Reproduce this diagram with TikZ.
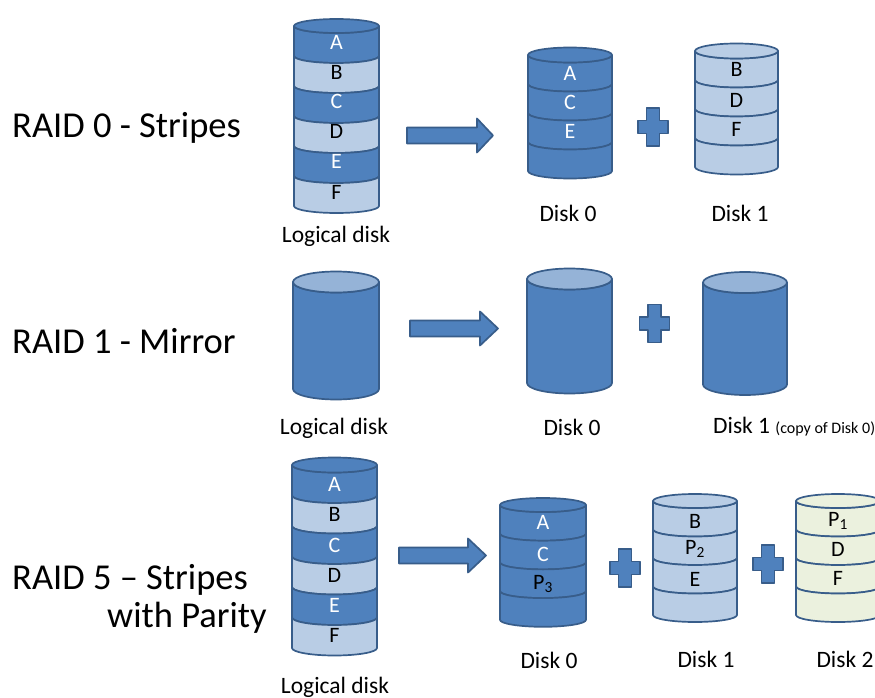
\documentclass[tikz,border=0pt]{standalone}
\usepackage{fontspec}
\setmainfont{Carlito}
\definecolor{diskblue}{HTML}{4F81BD}
\definecolor{diskedge}{HTML}{385D8A}
\definecolor{disklight}{HTML}{B9CDE5}
\definecolor{diskcap}{HTML}{95B3D7}
\definecolor{diskpale}{HTML}{EBF1DE}

% Stacked cylinder: #1 left x, #2 right x, #3 y of top rim, #4 band height,
% #5 rim half-height, #6 top colour, #7 list of band colours (top to bottom)
\newcommand\stackdisk[7]{%
  \pgfmathsetmacro\drx{(#2-#1)/2}%
  \pgfmathsetmacro\dcx{(#1+#2)/2}%
  \foreach \bc [count=\bi from 0] in {#7} {
    \pgfmathsetmacro\dya{#3+\bi*#4}
    \pgfmathsetmacro\dyb{#3+(\bi+1)*#4}
    \filldraw[disk, fill=\bc] (#1,\dya) -- (#1,\dyb)
      arc[start angle=180, end angle=360, x radius=\drx pt, y radius=#5pt]
      -- (#2,\dya)
      arc[start angle=360, end angle=180, x radius=\drx pt, y radius=#5pt] -- cycle;
  }
  \filldraw[disk, fill=#6] (\dcx,#3) ellipse[x radius=\drx pt, y radius=#5pt];
}

% Plus sign centred on (#1,#2)
\newcommand\plusmark[2]{%
  \filldraw[disk, fill=diskblue] (#1,#2) ++(-6.5,-19) -- ++(13,0) -- ++(0,12.5)
    -- ++(8.5,0) -- ++(0,13) -- ++(-8.5,0) -- ++(0,12.5) -- ++(-13,0)
    -- ++(0,-12.5) -- ++(-8.5,0) -- ++(0,-13) -- ++(8.5,0) -- cycle;
}

% Block arrow: #1 tail x, #2 head base x, #3 tip x, #4 centre y
\newcommand\blockarrow[4]{%
  \filldraw[disk, fill=diskblue] (#1,{#4-8}) -- (#2,{#4-8}) -- (#2,{#4-17})
    -- (#3,#4) -- (#2,{#4+17}) -- (#2,{#4+8}) -- (#1,{#4+8}) -- cycle;
}

\tikzset{
  disk/.style={draw=diskedge, line width=1.7pt, line join=round},
  title/.style={font=\fontsize{36.5}{44}\selectfont, anchor=base west, inner sep=0pt},
  caption/.style={font=\fontsize{23.5}{28}\selectfont, inner sep=0pt},
  wletter/.style={font=\fontsize{22}{26}\selectfont, text=white, inner sep=0pt},
  bletter/.style={font=\fontsize{22}{26}\selectfont, text=black, inner sep=0pt}
}

\begin{document}
\begin{tikzpicture}[x=1pt, y=-1pt]
\clip (0,0) rectangle (875,698);
\fill[white] (0,0) rectangle (875,698);

% ---------------- RAID 0 ----------------
\node[title] (t0) at (12,138) {RAID 0 - Stripes};
\stackdisk{294}{379}{26}{30}{7}{diskblue}{diskblue,disklight,diskblue,disklight,diskblue,disklight}
\node[wletter] (l0a) at (336.5,42) {A};
\node[bletter] (l0b) at (336.5,72) {B};
\node[wletter] (l0c) at (336.5,101) {C};
\node[bletter] (l0d) at (336.5,131) {D};
\node[wletter] (l0e) at (336.5,161) {E};
\node[bletter] (l0f) at (336.5,192) {F};
\node[caption] (c0l) at (336,236) {Logical disk};

\blockarrow{407}{477}{493}{135.5}

\stackdisk{528}{612}{55}{29}{7.5}{diskblue}{diskblue,diskblue,diskblue,diskblue}
\node[wletter] (d00a) at (570,73) {A};
\node[wletter] (d00c) at (570,102) {C};
\node[wletter] (d00e) at (570,131) {E};
\node[caption] (c00) at (568,213) {Disk 0};

\plusmark{653}{127}

\stackdisk{695}{778}{51}{29}{7.5}{disklight}{disklight,disklight,disklight,disklight}
\node[bletter] (d01b) at (736.5,69) {B};
\node[bletter] (d01d) at (736.5,100) {D};
\node[bletter] (d01f) at (736.5,129) {F};
\node[caption] (c01) at (740,213) {Disk 1};

% ---------------- RAID 1 ----------------
\node[title] (t1) at (12,353) {RAID 1 - Mirror};
\stackdisk{293}{379}{282}{107}{10.5}{diskcap}{diskblue}
\node[caption] (c1l) at (334,428) {Logical disk};

\blockarrow{410}{480}{498}{328.5}

\stackdisk{527}{612}{279}{104}{10.5}{diskcap}{diskblue}
\node[caption] (c10) at (572,427) {Disk 0};

\plusmark{654.5}{323.5}

\stackdisk{703}{787}{282.5}{102}{10.5}{diskcap}{diskblue}
\node[caption, anchor=base west] (c11) at (713,433)
  {Disk 1 {\fontsize{16}{19}\selectfont (copy of Disk 0)}};

% ---------------- RAID 5 ----------------
\node[title] (t5a) at (12,589) {RAID 5 – Stripes};
\node[title] (t5b) at (107,627) {with Parity};
\stackdisk{292}{377}{465}{30.5}{7.5}{diskblue}{diskblue,disklight,diskblue,disklight,diskblue,disklight}
\node[wletter] (l5a) at (334.5,484) {A};
\node[bletter] (l5b) at (334.5,514) {B};
\node[wletter] (l5c) at (334.5,545) {C};
\node[bletter] (l5d) at (334.5,575) {D};
\node[wletter] (l5e) at (334.5,605) {E};
\node[bletter] (l5f) at (334.5,635) {F};
\node[caption] (c5l) at (335,687) {Logical disk};

\blockarrow{399}{468}{486}{555.5}

\stackdisk{500}{586}{505}{28.7}{7}{diskblue}{diskblue,diskblue,diskblue,diskblue}
\node[wletter] (d50a) at (543,522) {A};
\node[wletter] (d50c) at (543,554) {C};
\node[bletter] (d50p) at (543,584) {P\textsubscript{3}};
\node[caption] (c50) at (549,660) {Disk 0};

\plusmark{625}{568}

\stackdisk{653}{737}{501}{28.5}{7}{disklight}{disklight,disklight,disklight,disklight}
\node[bletter] (d51b) at (695,521) {B};
\node[bletter] (d51p) at (695,549) {P\textsubscript{2}};
\node[bletter] (d51e) at (695,579) {E};
\node[caption] (c51) at (706,659) {Disk 1};

\plusmark{768}{564}

\stackdisk{796}{880}{501}{28.5}{7}{diskpale}{diskpale,diskpale,diskpale,diskpale}
\node[bletter] (d52p) at (838,521) {P\textsubscript{1}};
\node[bletter] (d52d) at (838,549) {D};
\node[bletter] (d52f) at (838,578) {F};
\node[caption] (c52) at (845,659) {Disk 2};
\end{tikzpicture}
\end{document}
